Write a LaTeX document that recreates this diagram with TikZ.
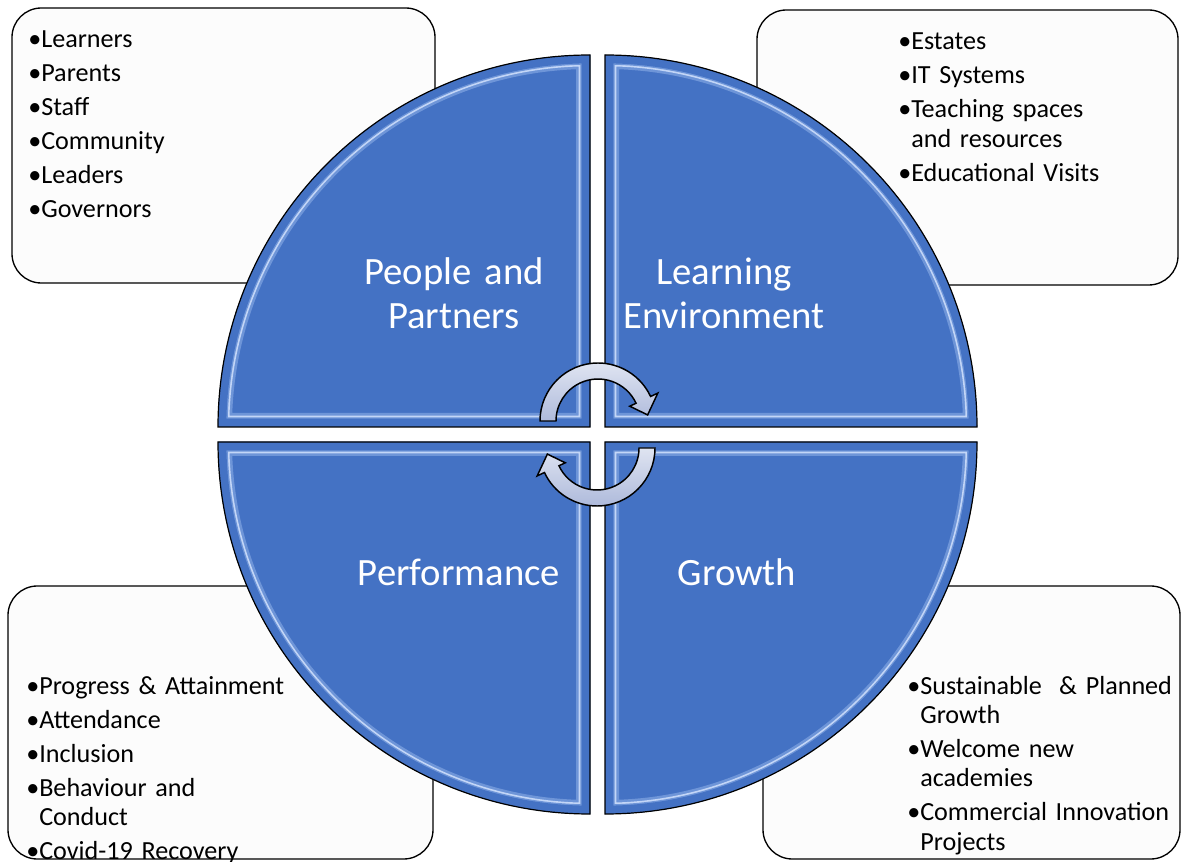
\documentclass[tikz,border=0pt]{standalone}
\usepackage{fontspec}
\setmainfont{Carlito}
\definecolor{qblue}{HTML}{4472C4}
\definecolor{qmid}{HTML}{6E95D8}
\definecolor{qhi}{HTML}{C3D6F7}
\definecolor{boxfill}{HTML}{FCFCFC}
\definecolor{arrtop}{HTML}{DFE4F1}
\definecolor{arrbot}{HTML}{AEBADB}
\newlength\bulw
\newcommand\bitem[1]{\par\hangindent=\bulw\hangafter=1\noindent\makebox[\bulw][l]{•}#1}
\newcommand\quadbevel[1]{%
  \begin{scope}
    \clip #1;
    \draw[line width=21pt, qmid] #1;
    \draw[line width=17pt, qhi] #1;
    \draw[line width=14.5pt, qmid] #1;
    \draw[line width=12.5pt, qblue] #1;
  \end{scope}
  \draw[line width=0.9pt, black, line join=miter] #1;}
\tikzset{
  listbox/.style={draw=black, line width=1pt, fill=boxfill, rounded corners=22pt},
  listtext/.style={anchor=base west, inner sep=0pt, text width=330pt, align=left,
    font=\fontsize{19.6pt}{22pt}\selectfont, text=black},
  quadfill/.style={fill=qblue},
  quadlabel/.style={anchor=base, inner sep=0pt, text width=220pt, align=center,
    font=\fontsize{29pt}{32.3pt}\selectfont, text=white},
  cyclearrow/.style={draw=black, line width=1.1pt, top color=arrtop, bottom color=arrbot, line join=miter}
}
\begin{document}
\begin{tikzpicture}[x=0.75pt,y=0.75pt]
\useasboundingbox (0,0) rectangle (1181,861);
% list boxes (behind the circle)
\draw[listbox] (12,853) rectangle (435,578);
\draw[listbox] (757,851) rectangle (1178,576);
\draw[listbox] (8,275) rectangle (433,2);
\draw[listbox] (763,275) rectangle (1180,2);
% quadrants
\fill[quadfill] (590,434) -- (218,434) arc (180:90:372) -- cycle;
\quadbevel{(590,434) -- (218,434) arc (180:90:372) -- cycle}
\fill[quadfill] (605,434) -- (605,806) arc (90:0:372) -- cycle;
\quadbevel{(605,434) -- (605,806) arc (90:0:372) -- cycle}
\fill[quadfill] (590,419) -- (590,47) arc (270:180:372) -- cycle;
\quadbevel{(590,419) -- (590,47) arc (270:180:372) -- cycle}
\fill[quadfill] (605,419) -- (977,419) arc (0:-90:372) -- cycle;
\quadbevel{(605,419) -- (977,419) arc (0:-90:372) -- cycle}
% cycle arrows
\begin{scope}[shift={(598,440)}]
  \path[cyclearrow] (180:58) arc (180:25:58) -- (25:66) -- (7:50) -- (25:35) -- (25:42) arc (25:180:42) -- cycle;
\end{scope}
\begin{scope}[shift={(597,413)}, rotate=180]
  \path[cyclearrow] (180:58) arc (180:25:58) -- (25:66) -- (7:50) -- (25:35) -- (25:42) arc (25:180:42) -- cycle;
\end{scope}
% quadrant labels
\node[quadlabel] (pp) at (454,576) {People and\\Partners};
\node[quadlabel] (le) at (724,576) {Learning\\Environment};
\node[quadlabel] (pf) at (459,276) {Performance};
\node[quadlabel] (gr) at (737,276) {Growth};
% lists
\node[listtext] (ltl) at (28,847) {\settowidth{\bulw}{•}\setlength{\parskip}{3.5pt}%
  \bitem{Learners}\bitem{Parents}\bitem{Staff}\bitem{Community}\bitem{Leaders}\bitem{Governors}\par};
\node[listtext] (ltr) at (898,845) {\settowidth{\bulw}{•}\setlength{\parskip}{3.5pt}%
  \bitem{Estates}\bitem{IT Systems}\bitem{Teaching spaces\newline and resources}\bitem{Educational Visits}\par};
\node[listtext] (lbl) at (26,201) {\settowidth{\bulw}{•}\setlength{\parskip}{3.5pt}%
  \bitem{Progress \& Attainment}\bitem{Attendance}\bitem{Inclusion}\bitem{Behaviour and\newline Conduct}\bitem{Covid-19 Recovery}\par};
\node[listtext] (lbr) at (907,201) {\settowidth{\bulw}{•}\setlength{\parskip}{3.5pt}%
  \bitem{Sustainable~ \& Planned\newline Growth}\bitem{Welcome new\newline academies}\bitem{Commercial Innovation\newline Projects}\par};
\end{tikzpicture}
\end{document}
